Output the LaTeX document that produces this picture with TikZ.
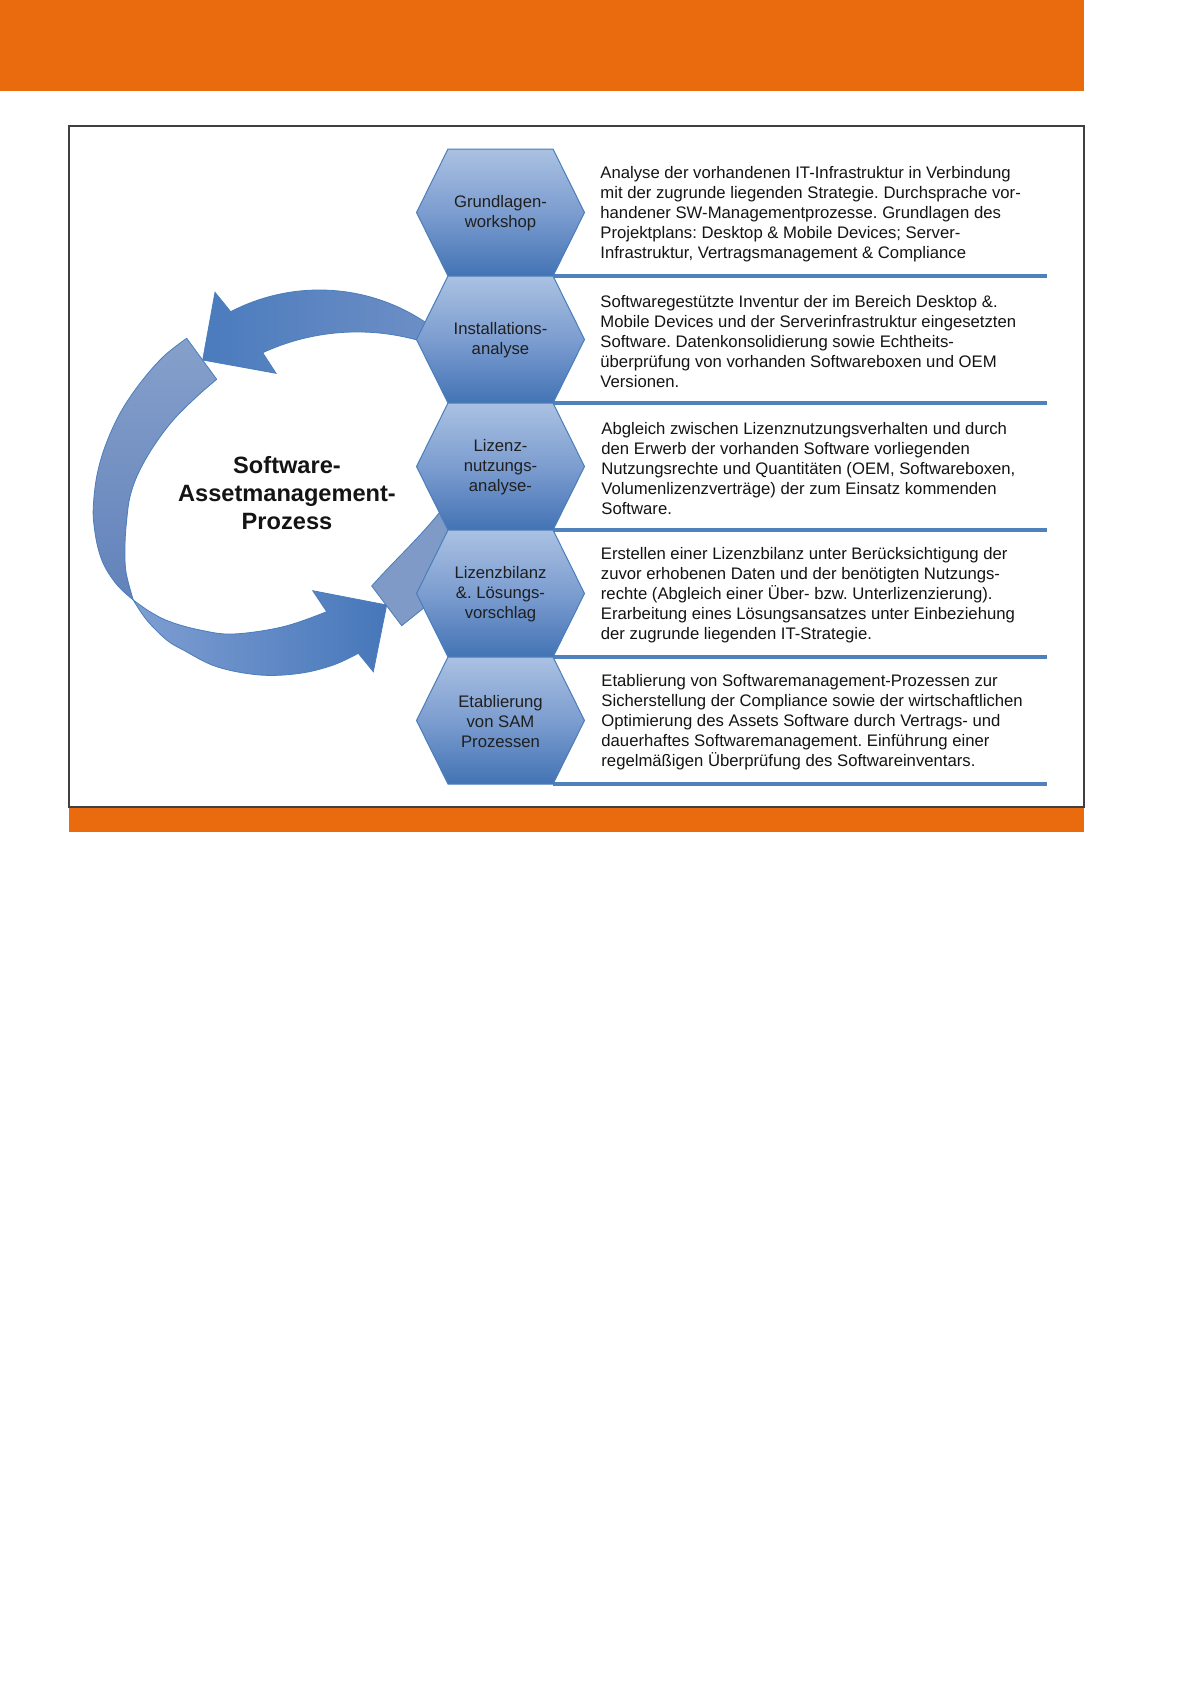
\documentclass[tikz,border=0pt]{standalone}
\usepackage{fontspec}
\setmainfont{Liberation Sans}
\frenchspacing
\definecolor{orng}{HTML}{EA6B0D}
\definecolor{hexlt}{HTML}{AAC1E2}
\definecolor{hexmid}{HTML}{7C9DD0}
\definecolor{hexdk}{HTML}{4373B4}
\definecolor{edgeblue}{HTML}{4A7EBB}
\definecolor{linblue}{HTML}{4F81BD}
\definecolor{framec}{HTML}{404040}
\definecolor{pieceC}{HTML}{7F9AC6}
\definecolor{arrAl}{HTML}{4A7BBD}
\definecolor{arrAr}{HTML}{7090C6}
\definecolor{arcTop}{HTML}{86A0CB}
\definecolor{arcBot}{HTML}{6282BA}
\definecolor{arrBl}{HTML}{7F9ED2}
\definecolor{arrBr}{HTML}{4677BA}
\newcommand{\mkhex}[3]{%
  \path[hexshape] (416.5,#2) -- (448,#2-63.5) -- (553,#2-63.5) -- (584.5,#2)
     -- (553,#2+63.5) -- (448,#2+63.5) -- cycle;
  \node[hexlabel] (#1) at (500.5,#2+1) {#3};}
\begin{document}
\begin{tikzpicture}[x=0.5pt,y=-0.5pt,
  hexshape/.style={draw=edgeblue, line width=0.5pt, top color=hexlt, bottom color=hexdk, middle color=hexmid},
  hexlabel/.style={align=center, inner sep=0pt, font=\fontsize{8.35}{10}\selectfont\frenchspacing, text=black!88},
  desc/.style={anchor=west, align=left, inner sep=0pt, font=\fontsize{8.35}{10}\selectfont\frenchspacing, text=black!92},
  titlenode/.style={align=center, inner sep=0pt, font=\bfseries\fontsize{11.8}{14}\selectfont, text=black!92},
  sepline/.style={draw=linblue, line width=1.65pt},
  shapeedge/.style={draw=edgeblue, line width=0.4pt, line join=miter}]
\useasboundingbox (0,0) rectangle (1196,1692);
\fill[white] (0,0) rectangle (1196,1692);
% header and frame
\fill[orng] (0,0) rectangle (1084,91);
\fill[orng] (69,807) rectangle (1084,832);
\draw[framec, line width=0.6pt] (69,126) rectangle (1084,807);

% big arc, upper part (tail)
\path[shapeedge, top color=arcTop, bottom color=arcBot]
  (186.7,338.3) -- (216.7,379.3)
  -- plot[smooth, tension=0.6] coordinates {(216.7,379.3) (196.7,396.7) (173.3,420) (153.3,446.7) (138.3,473.3) (130,496.7) (126.7,520) (125,545) (126,572) (133.3,600)}
  -- plot[smooth, tension=0.6] coordinates {(133.3,600) (118,586) (105,567) (98,548) (94,525) (93.3,506.7) (96.7,476.7) (105,446.7) (120,413.3) (140,383.3) (163.3,356.7) (186.7,338.3)}
  -- cycle;
% big arc, lower part with head
\path[shapeedge, left color=arrBl, right color=arrBr]
  plot[smooth, tension=0.6] coordinates {(133.3,600) (150,611.7) (170,621.7) (200,630) (233.3,634) (283.3,626.7) (326.7,611.7)}
  -- (312.7,590.7) -- (386.7,605) -- (373.3,671.7) -- (358.3,653.3)
  -- plot[smooth, tension=0.6] coordinates {(358.3,653.3) (333.3,665) (300,673.3) (260,675) (216.7,666.7) (183.3,650) (166.7,640) (146.7,620) (133.3,600)}
  -- cycle;
% piece near hexagons
\path[shapeedge, fill=pieceC]
  (470,479) -- (439,513) .. controls (420,537) and (392,563) .. (371.7,586)
  -- (401.7,625.7) -- (470,571) -- cycle;
% upper arrow
\path[shapeedge, left color=arrAl, right color=arrAr]
  (202.7,360) -- (215,292.3) -- (230.7,311.7)
  .. controls (292.5,279.5) and (367,283.3) .. (425,322)
  -- (445,330) -- (435,347) -- (417,340)
  .. controls (365.7,325.9) and (311,330.4) .. (262.7,352.7)
  -- (276,373.3) -- cycle;

% separator lines
\foreach \yb in {276,403,530,657,784} \draw[sepline] (553,\yb) -- (1047,\yb);

% hexagons
\mkhex{h1}{212.5}{Grundlagen-\\workshop}
\mkhex{h2}{339.5}{Installations-\\analyse}
\mkhex{h3}{466.5}{Lizenz-\\nutzungs-\\analyse-}
\mkhex{h4}{593.5}{Lizenzbilanz\\\&. Lösungs-\\vorschlag}
\mkhex{h5}{720.5}{Etablierung\\von SAM\\Prozessen}

% title
\node[titlenode] (title) at (287,493) {Software-\\Assetmanagement-\\Prozess};

% descriptions
\node[desc] (d1) at (600,214) {Analyse der vorhandenen IT-Infrastruktur in Verbindung\\mit der zugrunde liegenden Strategie. Durchsprache vor-\\handener SW-Managementprozesse. Grundlagen des\\Projektplans: Desktop \& Mobile Devices; Server-\\Infrastruktur, Vertragsmanagement \& Compliance};
\node[desc] (d2) at (600,342) {Softwaregestützte Inventur der im Bereich Desktop \&.\\Mobile Devices und der Serverinfrastruktur eingesetzten\\Software. Datenkonsolidierung sowie Echtheits-\\überprüfung von vorhanden Softwareboxen und OEM\\Versionen.};
\node[desc] (d3) at (601,468.5) {Abgleich zwischen Lizenznutzungsverhalten und durch\\den Erwerb der vorhanden Software vorliegenden\\Nutzungsrechte und Quantitäten (OEM, Softwareboxen,\\Volumenlizenzverträge) der zum Einsatz kommenden\\Software.};
\node[desc] (d4) at (600.5,595.5) {Erstellen einer Lizenzbilanz unter Berücksichtigung der\\zuvor erhobenen Daten und der benötigten Nutzungs-\\rechte (Abgleich einer Über- bzw. Unterlizenzierung).\\Erarbeitung eines Lösungsansatzes unter Einbeziehung\\der zugrunde liegenden IT-Strategie.};
\node[desc] (d5) at (601,722) {Etablierung von Softwaremanagement-Prozessen zur\\Sicherstellung der Compliance sowie der wirtschaftlichen\\Optimierung des Assets Software durch Vertrags- und\\dauerhaftes Softwaremanagement. Einführung einer\\regelmäßigen Überprüfung des Softwareinventars.};
\end{tikzpicture}
\end{document}
